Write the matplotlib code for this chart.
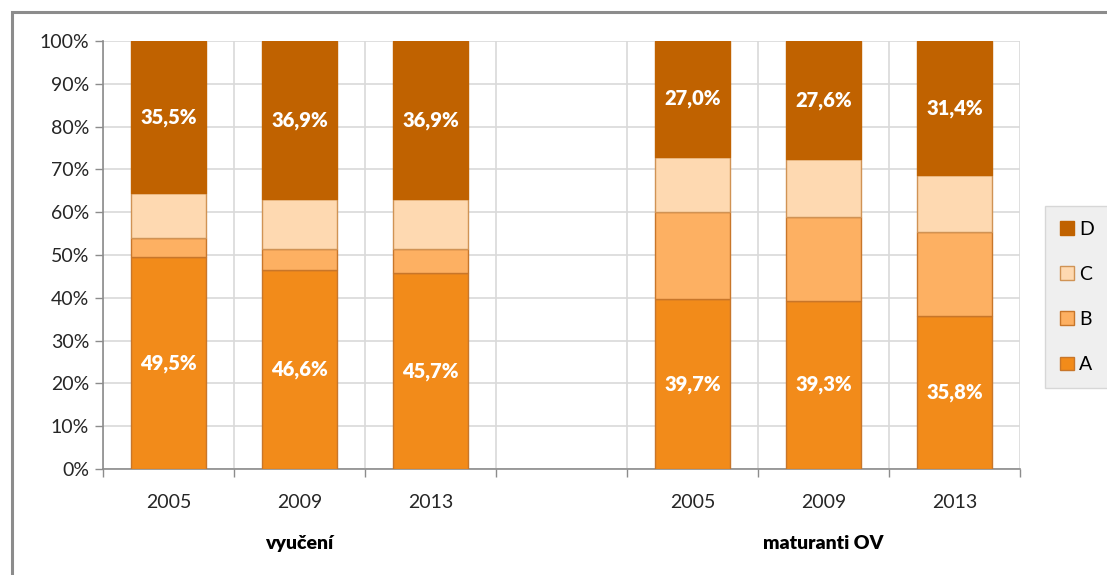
import numpy as np
import matplotlib as mpl
import matplotlib.pyplot as plt
from matplotlib.patches import Rectangle

plt.rcParams['font.family'] = ['Lato', 'DejaVu Sans']

# Data (percent), slot 3 is an empty spacer between the groups
years = ['2005', '2009', '2013', '', '2005', '2009', '2013']
groups = ['vyučení', 'maturanti OV']
A = [49.5, 46.6, 45.7, np.nan, 39.7, 39.3, 35.8]
B = [4.4, 4.7, 5.6, np.nan, 20.3, 19.5, 19.6]
C = [10.6, 11.8, 11.8, np.nan, 13.0, 13.6, 13.2]
D = [35.5, 36.9, 36.9, np.nan, 27.0, 27.6, 31.4]
series = {'A': A, 'B': B, 'C': C, 'D': D}

colors = {'A': '#F28B1A', 'B': '#FDB062', 'C': '#FED9B1', 'D': '#C06200'}
edges = {'A': '#C8762A', 'B': '#C8762A', 'C': '#D09355', 'D': '#C06200'}
labelled = ['A', 'D']


def main():
    fig = plt.figure(figsize=(11.07, 5.75), dpi=100)
    ax = fig.add_axes([0.093, 0.1843, 0.8284, 0.7443])

    # outer chart frame
    fig.patches.append(Rectangle((12 / 1107, -0.1), 1.2, 0.1 + 563 / 575,
                                 transform=fig.transFigure, fill=False,
                                 edgecolor='#8C8C8C', linewidth=2.2))

    x = np.arange(len(years))
    bottom = np.zeros(len(years))
    handles = {}
    for name, vals in series.items():
        v = np.array(vals, dtype=float)
        ok = ~np.isnan(v)
        h = ax.bar(x[ok], v[ok], width=0.57, bottom=bottom[ok],
                   color=colors[name], edgecolor=edges[name], linewidth=1.0,
                   zorder=3, label=name)
        handles[name] = h
        if name in labelled:
            for xi, b, val in zip(x[ok], bottom[ok], v[ok]):
                ax.text(xi, b + val / 2, f'{val:.1f}%'.replace('.', ','),
                        ha='center', va='center', color='white',
                        fontsize=14.5, fontweight='heavy', zorder=4)
        bottom[ok] += v[ok]

    ax.set_xlim(-0.5, len(years) - 0.5)
    ax.set_ylim(0, 100)
    ax.set_yticks(np.arange(0, 101, 10))
    ax.set_yticklabels([f'{t}%' for t in range(0, 101, 10)], fontsize=14,
                       color='#262626')

    # boundaries between categories
    bounds = np.arange(-0.5, len(years), 1)
    ax.set_xticks(bounds)
    ax.set_xticklabels([])
    ax.set_xticks(x, minor=True)
    ax.set_xticklabels(years, minor=True, fontsize=14, color='#262626')
    ax.tick_params(axis='x', which='minor', length=0, pad=18)
    ax.tick_params(axis='x', which='major', length=6, color='#8C8C8C', width=1)
    ax.tick_params(axis='y', length=6, color='#8C8C8C', width=1, pad=4)

    ax.grid(True, axis='y', color='#D9D9D9', linewidth=1.2, zorder=0)
    ax.grid(True, axis='x', which='major', color='#D9D9D9', linewidth=1.2,
            zorder=0)
    for s in ['top', 'right']:
        ax.spines[s].set_visible(False)
    for s in ['left', 'bottom']:
        ax.spines[s].set_color('#8C8C8C')
        ax.spines[s].set_linewidth(1.2)

    # group labels
    ax.text(1, -0.175, groups[0], transform=ax.get_xaxis_transform(),
            ha='center', va='center', fontsize=14, fontweight='heavy')
    ax.text(5, -0.175, groups[1], transform=ax.get_xaxis_transform(),
            ha='center', va='center', fontsize=14, fontweight='heavy')

    leg = fig.legend([handles[k] for k in ['D', 'C', 'B', 'A']],
                     ['D', 'C', 'B', 'A'], loc='center',
                     bbox_to_anchor=(1077 / 1107, 1 - 297 / 575),
                     fontsize=14, frameon=True, fancybox=False,
                     handlelength=0.7, handleheight=0.7, handletextpad=0.3,
                     labelspacing=1.45, borderpad=0.75)
    leg.get_frame().set_facecolor('#EBEBEB')
    leg.get_frame().set_edgecolor('#D0D0D0')

    fig.savefig('out.png', dpi=100)


if __name__ == "__main__":
    main()
